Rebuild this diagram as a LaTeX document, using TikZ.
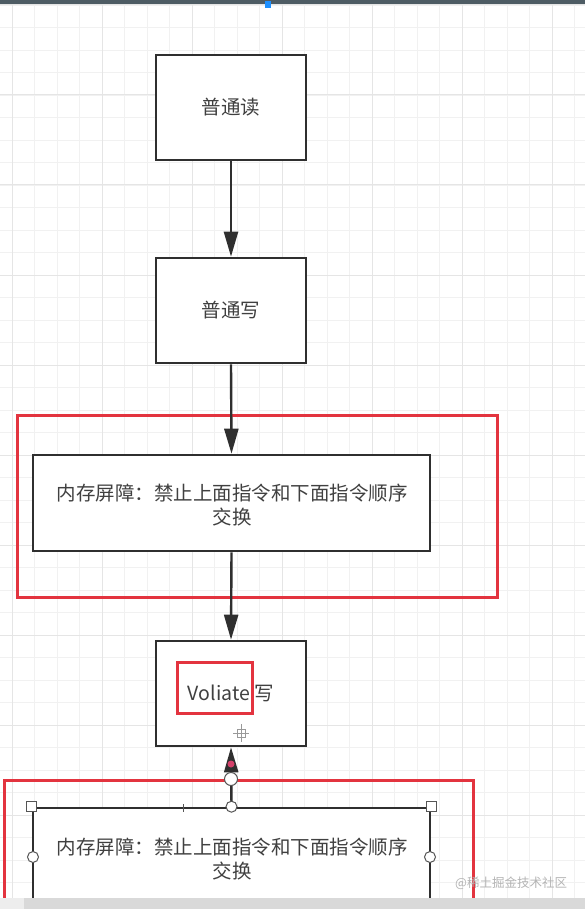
\documentclass[tikz,border=0pt]{standalone}
\usepackage{fontspec}
\setmainfont{Noto Sans CJK SC}
\usetikzlibrary{arrows.meta}
\definecolor{gridminor}{HTML}{F1F1F1}
\definecolor{gridmajor}{HTML}{E5E5E5}
\definecolor{boxline}{HTML}{2F2F2F}
\definecolor{redline}{HTML}{E3343F}
\definecolor{txt}{HTML}{404040}
\definecolor{topbar}{HTML}{4E5C64}
\definecolor{selblue}{HTML}{1E90FF}
\definecolor{handle}{HTML}{555555}
\definecolor{pinkdot}{HTML}{D4406A}
\definecolor{stripgrey}{HTML}{D9D9D9}
\definecolor{stripleft}{HTML}{EDEDED}
\definecolor{wm}{HTML}{B4B4B4}
\tikzset{
  box/.style={draw=boxline, line width=2.6pt, fill=white, minimum width=150pt, minimum height=105pt, inner sep=0pt, font=\fontsize{19.5}{24}\selectfont, text=txt},
  widebox/.style={box, minimum width=397pt, minimum height=96pt},
  label/.style={inner sep=0pt, align=center, font=\fontsize{19.5}{24}\selectfont, text=txt},
  arr/.style={draw=boxline, line width=2.4pt, -{Triangle[length=25pt,width=14pt]}},
  redbox/.style={draw=redline, line width=3pt},
  sqhandle/.style={draw=handle, fill=white, line width=1pt, minimum size=10pt, inner sep=0pt},
  cirhandle/.style={draw=handle, fill=white, line width=1pt, circle, minimum size=11pt, inner sep=0pt}
}
\begin{document}
\begin{tikzpicture}[x=1pt,y=-1pt]
\useasboundingbox (0,0) rectangle (585,909);
\fill[white] (0,0) rectangle (585,909);
% grid
\foreach \x in {12,34.5,...,585} \draw[gridminor, line width=0.8pt] (\x,0) -- (\x,909);
\foreach \y in {5,27.5,...,909} \draw[gridminor, line width=0.8pt] (0,\y) -- (585,\y);
\foreach \x in {12,102,...,585} \draw[gridmajor, line width=1pt] (\x,0) -- (\x,909);
\foreach \y in {5,95,...,909} \draw[gridmajor, line width=1pt] (0,\y) -- (585,\y);
% top bar
\fill[topbar] (0,0) rectangle (585,4);
\fill[selblue] (265,1) rectangle (271,8);

% boxes
\node[box] (b1) at (231,107.5) {普通读};
\node[box] (b2) at (231,310.5) {普通写};
\node[widebox] (b3) at (231.5,503) {};
\node[label] (t3) at (232,505) {内存屏障：禁止上面指令和下面指令顺序\\交换};
\node[box] (b4) at (231,693.5) {Voliate 写};
\node[box, minimum width=397pt, minimum height=130pt] (b5) at (231.5,873) {};
\node[label] (t5) at (232,859) {内存屏障：禁止上面指令和下面指令顺序\\交换};

% red highlight boxes
\draw[redbox] (17,415) rectangle (497,597);
\draw[redbox] (177,662) rectangle (252,713);
\draw[redbox] (4.5,780) rectangle (473,920);

% connectors
\draw[arr] (b1.south) -- (b2.north);
\draw[arr] (b2.south) -- (b3.north);
\draw[arr] (b3.south) -- (b4.north);
\draw[arr] (b5.north) -- (b4.south);

% selection decorations
\fill[pinkdot] (231,764) circle (3.5pt);
\node[cirhandle, minimum size=13pt] (hrot) at (231,779) {};
\draw[handle, line width=0.8pt] (183,804) -- (183,812);
\node[sqhandle] (h1) at (b5.north west) {};
\node[sqhandle] (h2) at (b5.north east) {};
\node[cirhandle] (h3) at (b5.north) {};
\node[cirhandle] (h4) at (33,857) {};
\node[cirhandle] (h5) at (430,857) {};

% move cursor
\draw[handle!60, line width=0.8pt] (233,733) -- (249,733) (241,724) -- (241,742);
\draw[handle!60, line width=0.8pt] (237,729) rectangle (245,737);

% bottom strip and watermark
\fill[stripleft] (0,898) rectangle (24,909);
\fill[stripgrey] (24,898) rectangle (585,909);
\node[inner sep=0pt, anchor=west, text=wm, font=\fontsize{12.5}{14}\selectfont] (wmark) at (455,883) {@稀土掘金技术社区};
\end{tikzpicture}
\end{document}
